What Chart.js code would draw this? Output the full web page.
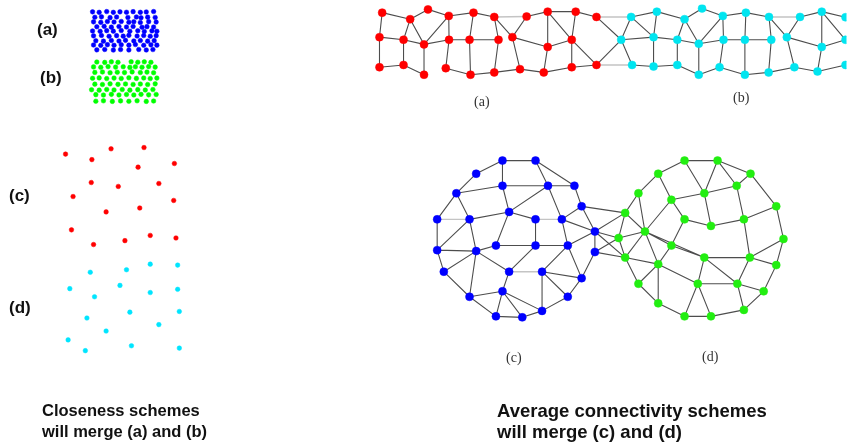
<!DOCTYPE html>
<html>
<head>
<meta charset="utf-8">
<script src="https://cdn.jsdelivr.net/npm/chart.js@4.4.1/dist/chart.umd.min.js"></script>
<style>
  body { margin: 0; background: #fff; }
  #wrap { position: relative; width: 851px; height: 445px; overflow: hidden; }
  #c { position: absolute; left: 0; top: 0; }
  .lbl { position: absolute; font-family: "Liberation Sans", Arial, sans-serif; font-weight: bold; color: #111; white-space: nowrap; }
  .tag { font-size: 17px; line-height: 20px; }
  .sub { position: absolute; font-family: "Liberation Serif", "Times New Roman", serif; font-size: 14px; color: #333; white-space: nowrap; }
  .cap { line-height: 21px; }
</style>
</head>
<body>
<div id="wrap">
  <canvas id="c" width="851" height="445"></canvas>
  <div class="lbl tag" style="left:37px;top:20px">(a)</div>
  <div class="lbl tag" style="left:40px;top:68px">(b)</div>
  <div class="lbl tag" style="left:9px;top:186px">(c)</div>
  <div class="lbl tag" style="left:9px;top:298px">(d)</div>
  <div class="sub" style="left:474px;top:94px">(a)</div>
  <div class="sub" style="left:733px;top:90px">(b)</div>
  <div class="sub" style="left:506px;top:350px">(c)</div>
  <div class="sub" style="left:702px;top:349px">(d)</div>
  <div class="lbl cap" style="left:42px;top:400px;font-size:16.5px">Closeness schemes<br>will merge (a) and (b)</div>
  <div class="lbl cap" style="left:497px;top:400px;font-size:18.5px">Average connectivity schemes<br>will merge (c) and (d)</div>
</div>
<script>
// point clouds on the left, [x, y] in figure units
const cloudBlue = [
  [89,7.5],[95.7,8],[103.3,7.2],[110,8],[116.7,7.5],[123.3,7.9],[130,7.3],[137.3,8],[143.3,7.6],[150.7,7.2],
  [91.3,13],[98,12.6],[106.7,13.4],[113.3,12.8],[124.7,13.2],[133.3,12.7],[138,13.5],[144.7,12.9],[152.3,13.2],
  [90,17.7],[97.3,18.2],[104,17.4],[110.7,17.9],[118,17.3],[125.7,18.1],[130.7,17.6],[137.3,18.3],[145.7,17.5],[153.3,17.9],
  [93.3,22.7],[100.7,22.3],[108,23.1],[115.7,22.5],[123.3,23],[130,22.4],[139,23.2],[144,22.6],[150.7,23],
  [89,27],[96.7,27.4],[103.3,26.7],[110,27.2],[118,26.6],[126.7,27.3],[134.7,26.8],[141.3,27.5],[149,26.9],[154,27.3],
  [90,32],[98,31.6],[105.7,32.4],[113.3,31.8],[120,32.3],[125.7,31.5],[134,32.2],[140.7,31.7],[147.3,32.4],[153.3,31.8],
  [92.3,37],[100,37.4],[108,36.7],[115.7,37.3],[122.3,36.6],[130.7,37.2],[137.3,36.8],[144.7,37.4],[151.3,36.9],
  [90,41.3],[97.3,41.7],[104,41],[110.7,41.6],[118,41.1],[125.7,41.5],[132.3,40.9],[140.7,41.6],[148,41.2],[154,41.5],
  [93.3,46.3],[101.3,45.9],[110,46.5],[117.3,46],[125.7,46.4],[135.7,45.9],[143.3,46.4],[150,46]
];
const cloudGreen = [
  [93.3,58.7],[101.3,59.1],[108,58.5],[114.7,59],[128,58.4],[134.7,58.9],[141.3,58.5],[148,59],
  [90,63.7],[97.3,64.1],[104.7,63.4],[112.3,63.9],[120,63.5],[126.7,64.2],[132.3,63.6],[139,64],[145.7,63.4],[152.3,63.9],
  [91.3,69.3],[99,68.9],[106.7,69.6],[114,69.1],[121.3,69.5],[129,68.8],[137.3,69.4],[144,69],[150.7,69.6],
  [89,75.3],[95.7,74.9],[103.3,75.6],[110.7,75.1],[118,75.5],[125.7,74.8],[133.3,75.4],[140.7,75],[147.3,75.6],[154,75.1],
  [91.3,81.3],[99,81.7],[106.7,81],[114.7,81.5],[122.3,81.1],[130,81.6],[137.3,81.2],[144.7,81.7],[152.3,81],
  [88,87],[95.7,87.4],[103.3,86.7],[110.7,87.2],[119,86.8],[126.7,87.4],[134.7,86.9],[142.3,87.3],[150,86.8],
  [92.3,92],[100,92.4],[108,91.7],[115.7,92.3],[123.3,91.8],[130.7,92.3],[138,91.7],[145.7,92.2],[153.3,91.8],
  [92.3,98.7],[100,98.3],[109,98.9],[117.3,98.4],[125.7,98.8],[134,98.3],[143.3,98.9],[150.7,98.5]
];
const sparseRed = [
  [61.7,152.7],[107.7,147.3],[141,146],[88.3,158.3],[135,166],[171.7,162.3],[87.7,181.7],[115,185.7],[156,182.7],
  [69.3,196],[171,200],[102.7,211.7],[136.7,207.7],[67.7,230],[90,245],[121.7,241],[147.3,235.7],[173.3,238.3]
];
const sparseCyan = [
  [147.3,265],[175,266],[86.7,273.3],[123.3,270.7],[66,290],[116.7,286.7],[175,290.7],[91,298.3],[147.3,294],
  [83.3,320],[126.7,314],[176.7,313.3],[156,326.7],[102.7,333.3],[64.3,342.3],[81.7,353.3],[128.3,348.3],[176.7,350.7]
];

// strip graph (a) red, (b) cyan: top row, middle row, bottom row
const stripRed = [
  [381.7,8.3],[410,15],[428,5],[449,11.7],[474,8.3],[495,12.7],[527.7,12.3],[549,7.3],[577.3,7.3],[598.3,12.7],
  [379,33.3],[403.3,36],[424,40.7],[449.3,36],[470,36],[499.3,36],[513.3,33.3],[549,43.3],[573.3,36],
  [379,64],[403.3,61.7],[424,71.7],[446,65],[471,71.7],[495,69.3],[521,66],[545,69.3],[573.3,64],[598.3,61.7]
];
const stripCyan = [
  [633.3,12.7],[659.3,7.3],[687.3,15],[705,4],[726,11.7],[749.3,8.3],[772.7,12.7],[804,12.7],[826,7.3],[850,13],
  [623.3,36],[656,33.3],[680,36],[701.7,40],[726.7,36],[748.3,36],[775,36],[790.7,33.3],[826,43.3],[850,36],
  [634.3,61.7],[656,63.3],[680,61.7],[701.7,71.7],[722.7,64],[748.3,71.7],[772.3,69.3],[798.3,64],[821.7,68.3],[850,61.7]
];
const stripRedEdges = [
  [0,1],[1,2],[2,3],[3,4],[4,5],[6,7],[7,8],[8,9],
  [0,10],[10,19],[1,11],[1,12],[10,11],[11,12],[3,12],[3,13],[11,20],[19,20],[20,21],[12,21],[12,13],[13,14],[14,15],
  [4,14],[5,15],[13,22],[22,23],[23,24],[14,23],[15,24],[5,16],[6,16],[16,25],[24,25],[25,26],[16,17],[7,17],[17,26],
  [17,18],[7,18],[8,18],[18,27],[26,27],[27,28],[18,28]
];
const stripRedLight = [[5,6]];
const stripCyanEdges = [
  [0,10],[0,1],[1,11],[0,11],[10,11],[10,20],[11,12],[11,21],[20,21],[21,22],[12,22],[1,2],[2,12],[2,3],[2,13],[12,13],
  [3,4],[4,13],[4,14],[13,23],[22,23],[13,14],[14,15],[15,16],[4,5],[5,15],[5,6],[6,16],[14,24],[23,24],[24,25],[15,25],
  [25,26],[16,26],[6,17],[7,17],[17,27],[26,27],[27,28],[17,18],[8,18],[7,8],[8,9],[8,19],[18,28],[18,19],[28,29]
];
const stripCyanLight = [[6,7]];
const stripCross = [[9,10],[28,10]];       // red index -> cyan index
const stripCrossLight = [[9,0],[28,20]];

// circle graphs (c) blue, (d) green
const ringBlue = [
  [503.3,159.3],[536.7,159.3],[476.7,172.7],[503.3,185],[549.3,185],[576,185],[456.7,192.7],[583.3,206],
  [437.3,219.3],[470,219.3],[510,211.7],[536.7,219.3],[563.3,219.3],[596.7,231.7],[437.3,250.7],[476.7,251.7],
  [496.7,246],[536.7,246],[569.3,246],[596.7,252.7],[444,272.7],[510,272.7],[543.3,272.7],[583.3,279.3],
  [470,298.3],[503.3,292.7],[569.3,298.3],[496.7,318.3],[523.3,319.3],[543.3,312.7]
];
const ringGreen = [
  [687.3,159.3],[720.7,159.3],[660.7,172.7],[754,172.7],[640.7,192.7],[740,185],[707.3,192.7],[674,199.3],
  [780,206],[627.3,212.7],[687.3,219.3],[714,226],[747.3,219.3],[647.3,231.7],[620.7,238.3],[787.3,239.3],
  [674,246],[627.3,258.3],[707.3,258.3],[753.3,258.3],[780,266],[660.7,265],[640.7,285],[700.7,285],
  [740.7,285],[767.3,292.7],[660.7,305],[687.3,318.3],[714,318.3],[747.3,311.7]
];
const ringBlueEdges = [
  [0,1],[0,2],[0,3],[1,4],[1,5],[3,4],[2,6],[6,3],[4,5],[4,10],[3,10],[4,12],[5,7],[7,12],[6,8],[6,9],[9,10],
  [10,16],[10,11],[11,17],[12,18],[12,13],[7,13],[13,19],[8,14],[9,14],[9,15],[14,15],[15,16],[16,17],[17,18],
  [18,13],[14,20],[20,24],[15,20],[15,21],[15,24],[21,17],[22,18],[22,23],[23,19],[23,18],[21,25],[24,25],
  [25,27],[25,28],[25,29],[22,29],[22,26],[24,27],[27,28],[28,29],[29,26],[26,23]
];
const ringBlueLight = [[8,9],[11,12],[21,22]];
const ringGreenEdges = [
  [0,1],[0,2],[0,6],[1,6],[1,5],[1,3],[2,4],[2,7],[4,9],[4,13],[7,6],[6,5],[5,3],[3,8],[5,12],[7,10],[10,11],
  [11,12],[6,11],[12,8],[8,15],[15,20],[12,19],[9,13],[9,14],[13,14],[13,7],[13,16],[13,17],[13,21],[13,18],
  [16,10],[16,21],[16,18],[14,17],[17,21],[17,22],[21,22],[21,26],[21,23],[18,19],[18,23],[18,24],[19,20],
  [19,24],[20,25],[23,24],[23,27],[23,28],[24,29],[24,25],[25,29],[22,26],[26,27],[27,28],[28,29],[15,19]
];
const ringCross = [[7,9],[13,9],[13,14],[13,17],[19,14],[19,17]];   // blue index -> green index

const pt = p => ({ x: p[0], y: p[1] });
const gap = { x: null, y: null };

function edgeData(a, b, pairs) {
  const out = [];
  pairs.forEach(([i, j]) => { out.push(pt(a[i]), pt(b[j]), gap); });
  return out;
}

function dots(data, color, r) {
  return {
    data: data.map(pt), showLine: false, order: 0,
    backgroundColor: color, borderColor: color, borderWidth: 0.5,
    pointRadius: r, pointHoverRadius: r
  };
}

function lines(data, color, w) {
  return {
    data: data, showLine: true, spanGaps: false, order: 5,
    borderColor: color, borderWidth: w, pointRadius: 0, pointHoverRadius: 0, fill: false
  };
}

const edgeDark = '#4d4d4d';
const edgeLight = '#c4c4c4';

new Chart(document.getElementById('c'), {
  type: 'scatter',
  data: {
    datasets: [
      dots(cloudBlue, '#0000ff', 2.3),
      dots(cloudGreen, '#00ff00', 2.3),
      dots(sparseRed, '#ff0000', 2.3),
      dots(sparseCyan, '#00e5ff', 2.3),
      dots(stripRed, '#ff0000', 4),
      dots(stripCyan, '#00e5f0', 4),
      dots(ringBlue, '#0000ff', 4),
      dots(ringGreen, '#22ee11', 4),
      lines(edgeData(stripRed, stripRed, stripRedEdges), edgeDark, 1.1),
      lines(edgeData(stripCyan, stripCyan, stripCyanEdges), edgeDark, 1.1),
      lines(edgeData(stripRed, stripCyan, stripCross), edgeDark, 1.1),
      lines(edgeData(ringBlue, ringBlue, ringBlueEdges), edgeDark, 1.1),
      lines(edgeData(ringGreen, ringGreen, ringGreenEdges), edgeDark, 1.1),
      lines(edgeData(ringBlue, ringGreen, ringCross), edgeDark, 1.1),
      lines(edgeData(stripRed, stripRed, stripRedLight)
        .concat(edgeData(stripCyan, stripCyan, stripCyanLight))
        .concat(edgeData(stripRed, stripCyan, stripCrossLight))
        .concat(edgeData(ringBlue, ringBlue, ringBlueLight)), edgeLight, 1.4)
    ]
  },
  options: {
    responsive: false,
    animation: false,
    layout: { padding: 0 },
    plugins: { legend: { display: false }, tooltip: { enabled: false } },
    scales: {
      x: { type: 'linear', min: 0, max: 851, display: false },
      y: { type: 'linear', min: 0, max: 445, reverse: true, display: false }
    }
  }
});
</script>
</body>
</html>
